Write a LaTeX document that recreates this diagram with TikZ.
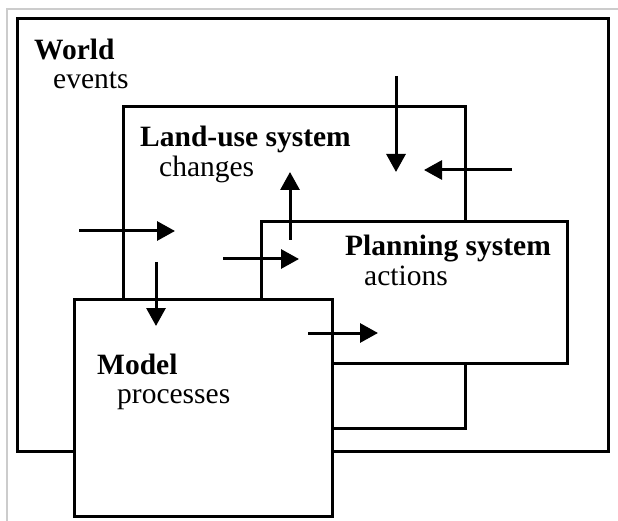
\documentclass[tikz,border=0pt]{standalone}
\usepackage{fontspec}
\setmainfont{Liberation Serif}
\usetikzlibrary{arrows.meta}
\begin{document}
\begin{tikzpicture}[x=1pt,y=-1pt,
  box/.style={draw=black, fill=white, line width=3pt, rectangle, inner sep=0pt, anchor=north west},
  title/.style={anchor=base west, inner sep=0pt, font=\fontsize{29.5}{35}\selectfont\bfseries},
  sub/.style={anchor=base west, inner sep=0pt, font=\fontsize{29.5}{35}\selectfont},
  flow/.style={line width=3pt, -{Triangle[length=18pt,width=19pt]}},
  frame/.style={draw=black!20, line width=1.5pt}]
\useasboundingbox (0,0) rectangle (618,521);
% screenshot frame
\coordinate (f1) at (618,9);
\coordinate (f2) at (7,9);
\coordinate (f3) at (7,521);
\draw[frame] (f1) -- (f2) -- (f3);
% boxes
\node[box, minimum width=591pt, minimum height=433pt] (world) at (16,17) {};
\node[box, minimum width=342pt, minimum height=322pt] (landuse) at (122,105) {};
\node[box, minimum width=306pt, minimum height=142pt] (planning) at (260,220) {};
\node[box, minimum width=258pt, minimum height=217pt] (model) at (73,298) {};
% labels
\node[title] (worldT) at (34,60) {World};
\node[sub] (worldS) at (53,89) {events};
\node[title] (landT) at (140,147) {Land-use system};
\node[sub] (landS) at (159,177) {changes};
\node[title] (planT) at (345,256) {Planning system};
\node[sub] (planS) at (364,285) {actions};
\node[title] (modelT) at (97,374) {Model};
\node[sub] (modelS) at (117,403) {processes};
% arrow end points
\coordinate (a1s) at (79,231);  \coordinate (a1e) at (175,231);
\coordinate (a2s) at (156,262); \coordinate (a2e) at (156,326);
\coordinate (a3s) at (223,259); \coordinate (a3e) at (299,259);
\coordinate (a4s) at (290,240); \coordinate (a4e) at (290,172);
\coordinate (a5s) at (308,333); \coordinate (a5e) at (378,333);
\coordinate (a6s) at (396,76);  \coordinate (a6e) at (396,172);
\coordinate (a7s) at (512,170); \coordinate (a7e) at (424,170);
\draw[flow] (a1s) -- (a1e);
\draw[flow] (a2s) -- (a2e);
\draw[flow] (a3s) -- (a3e);
\draw[flow] (a4s) -- (a4e);
\draw[flow] (a5s) -- (a5e);
\draw[flow] (a6s) -- (a6e);
\draw[flow] (a7s) -- (a7e);
\end{tikzpicture}
\end{document}
